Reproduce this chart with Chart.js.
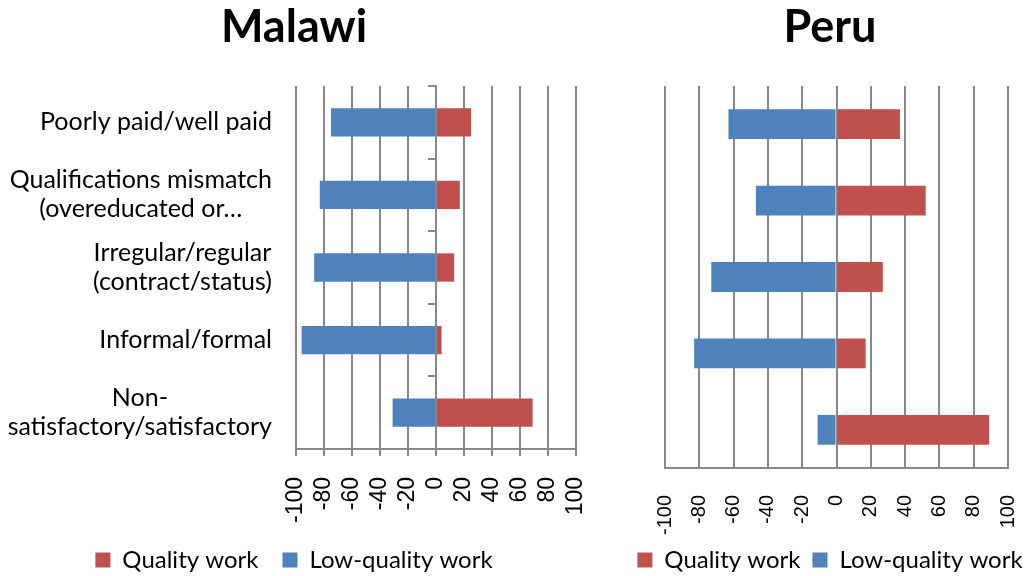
<!DOCTYPE html>
<html lang="en">
<head>
    <meta charset="UTF-8">
    <title>Malawi / Peru</title>
    <style>
        html, body {
            margin: 0;
            padding: 0;
            width: 1027px;
            height: 576px;
            overflow: hidden;
            background: #fff;
        }
        .box {
            position: absolute;
            top: 0;
            height: 582px;
        }
        #boxMalawi { left: 0; width: 588px; }
        #boxPeru { left: 613px; width: 434px; }
    </style>
    <script src="https://cdn.jsdelivr.net/npm/chart.js"></script>
</head>
<body>
    <div class="box" id="boxMalawi"><canvas id="malawi"></canvas></div>
    <div class="box" id="boxPeru"><canvas id="peru"></canvas></div>

    <script>
        // categories (one array of lines per bar)
        const categories = [
            ['Poorly paid/well paid'],
            ['Qualifications mismatch', '(overeducated or…'],
            ['Irregular/regular', '(contract/status)'],
            ['Informal/formal'],
            ['Non-', 'satisfactory/satisfactory']
        ];
        const xTicks = [-100, -80, -60, -40, -20, 0, 20, 40, 60, 80, 100];

        const malawiQuality = [25, 17, 13, 4, 69];
        const malawiLow = [-75, -83, -87, -96, -31];
        const peruQuality = [37, 52, 27, 17, 89];
        const peruLow = [-63, -47, -73, -83, -11];

        const RED = '#C0504D';
        const BLUE = '#4F81BD';
        const GRID = '#888888';
        const TEXT_FONT = 'Lato, "Open Sans", sans-serif';

        // category labels: each block right aligned, lines centred within the block
        const catLabels = {
            id: 'catLabels',
            afterDraw(chart, args, opts) {
                if (!opts.show) return;
                const ctx = chart.ctx;
                const y = chart.scales.y;
                const right = chart.chartArea.left - opts.gap;
                ctx.save();
                ctx.font = opts.size + 'px ' + TEXT_FONT;
                ctx.fillStyle = '#000';
                ctx.textAlign = 'center';
                ctx.textBaseline = 'middle';
                categories.forEach((lines, i) => {
                    const cy = y.getPixelForValue(i);
                    const w = Math.max(...lines.map(l => ctx.measureText(l).width));
                    const cx = right - w / 2;
                    lines.forEach((l, j) => {
                        ctx.fillText(l, cx, cy + (j - (lines.length - 1) / 2) * opts.lineHeight);
                    });
                });
                ctx.restore();
            }
        };

        function makeChart(id, title, quality, low, cfg) {
            const scales = {
                x: {
                    stacked: true,
                    min: -100,
                    max: 100,
                    afterBuildTicks: s => { s.ticks = xTicks.map(v => ({ value: v })); },
                    afterFit: s => {
                        // tall enough that the rotated "-100" is not clipped
                        s.height = cfg.xHeight;
                        // the plot edges are set by the side axes, not by the rotated labels
                        s.paddingLeft = 0;
                        s.paddingRight = 0;
                    },
                    grid: {
                        color: GRID,
                        lineWidth: 2,
                        drawTicks: cfg.xTickMarks,
                        tickLength: 7
                    },
                    border: { color: GRID, width: 2 },
                    ticks: {
                        color: '#000',
                        font: { family: '"Liberation Sans", Arial, sans-serif', size: cfg.tickSize },
                        minRotation: 90,
                        maxRotation: 90,
                        padding: cfg.tickPad,
                        autoSkip: false
                    }
                },
                y: {
                    stacked: true,
                    offset: true,
                    afterFit: s => { s.width = cfg.leftWidth; },
                    grid: { display: false, drawTicks: false },
                    border: { display: false },
                    ticks: { display: false }
                },
                yr: {
                    axis: 'y',
                    type: 'category',
                    position: 'right',
                    afterFit: s => { s.width = cfg.rightWidth; },
                    grid: { display: false, drawTicks: false },
                    border: { display: false },
                    ticks: { display: false }
                }
            };
            if (cfg.zeroAxis) {
                scales.y0 = {
                    axis: 'y',
                    type: 'category',
                    position: { x: 0 },
                    offset: true,
                    grid: {
                        offset: true,
                        drawOnChartArea: false,
                        drawTicks: true,
                        tickLength: 7,
                        color: GRID,
                        lineWidth: 2
                    },
                    border: { color: GRID, width: 2 },
                    ticks: { display: false }
                };
            }

            return new Chart(document.getElementById(id), {
                type: 'bar',
                data: {
                    labels: categories,
                    datasets: [
                        { label: 'Quality work', data: quality, backgroundColor: RED },
                        { label: 'Low-quality work', data: low, backgroundColor: BLUE }
                    ]
                },
                options: {
                    indexAxis: 'y',
                    responsive: true,
                    maintainAspectRatio: false,
                    animation: false,
                    categoryPercentage: 1,
                    barPercentage: 0.39,
                    layout: { padding: 0 },
                    scales: scales,
                    plugins: {
                        title: {
                            display: true,
                            text: title,
                            color: '#000',
                            font: { family: TEXT_FONT, size: 45, weight: 'bold' },
                            padding: { top: 0, bottom: 32 }
                        },
                        legend: {
                            position: 'bottom',
                            labels: {
                                color: '#000',
                                font: { family: TEXT_FONT, size: 24 },
                                boxWidth: 15,
                                boxHeight: 15,
                                padding: cfg.legendPad
                            }
                        },
                        tooltip: { enabled: false },
                        catLabels: { show: cfg.showLabels, gap: 24, size: 25, lineHeight: 29 }
                    }
                },
                plugins: [catLabels]
            });
        }

        makeChart('malawi', 'Malawi', malawiQuality, malawiLow, {
            xHeight: 75, xTickMarks: true, tickSize: 23, tickPad: 21,
            leftWidth: 296, rightWidth: 12, legendPad: 24,
            zeroAxis: true, showLabels: true
        });

        makeChart('peru', 'Peru', peruQuality, peruLow, {
            xHeight: 68, xTickMarks: false, tickSize: 20, tickPad: 27,
            leftWidth: 52, rightWidth: 39, legendPad: 12,
            zeroAxis: false, showLabels: false
        });
    </script>
</body>
</html>
